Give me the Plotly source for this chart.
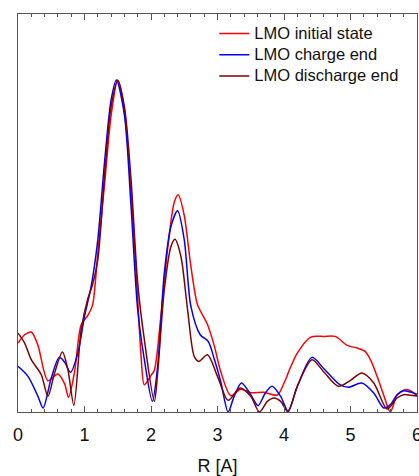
import plotly.graph_objects as go

# Data (R in Angstrom, |chi(R)| arbitrary units)
r_initial = [0, 0.1, 0.2, 0.3, 0.45, 0.6, 0.7, 0.76, 0.85, 0.95, 1.05, 1.12, 1.2, 1.3, 1.4, 1.5, 1.6, 1.7, 1.8, 1.85, 1.9, 2.0, 2.05, 2.15, 2.25, 2.35, 2.41, 2.5, 2.6, 2.7, 2.84, 2.95, 3.05, 3.2, 3.35, 3.5, 3.7, 3.9, 4.0, 4.1, 4.2, 4.4, 4.6, 4.77, 4.95, 5.1, 5.22, 5.3, 5.4, 5.5, 5.6, 5.7, 5.82, 5.92, 6.0]
v_initial = [0.207, 0.232, 0.24, 0.2, 0.094, 0.114, 0.085, 0.044, 0.12, 0.262, 0.29, 0.32, 0.477, 0.68, 0.89, 0.997, 0.907, 0.66, 0.34, 0.17, 0.082, 0.11, 0.125, 0.29, 0.49, 0.63, 0.652, 0.59, 0.437, 0.322, 0.267, 0.2, 0.12, 0.049, 0.068, 0.058, 0.059, 0.051, 0.087, 0.135, 0.177, 0.225, 0.227, 0.227, 0.2, 0.192, 0.182, 0.157, 0.107, 0.05, 0.0, 0.05, 0.067, 0.062, 0.047]

r_charge = [0, 0.15, 0.3, 0.377, 0.5, 0.62, 0.7, 0.79, 0.9, 1.0, 1.1, 1.2, 1.3, 1.4, 1.48, 1.6, 1.7, 1.8, 1.9, 2.02, 2.1, 2.2, 2.3, 2.4, 2.5, 2.6, 2.74, 2.86, 2.95, 3.05, 3.16, 3.25, 3.36, 3.5, 3.61, 3.72, 3.82, 3.95, 4.06, 4.2, 4.42, 4.6, 4.84, 4.97, 5.17, 5.35, 5.5, 5.6, 5.7, 5.8, 5.9, 6.0]
v_charge = [0.137, 0.107, 0.047, 0.012, 0.102, 0.164, 0.15, 0.119, 0.177, 0.287, 0.377, 0.517, 0.747, 0.937, 0.997, 0.892, 0.617, 0.307, 0.157, 0.032, 0.137, 0.417, 0.557, 0.604, 0.517, 0.317, 0.232, 0.212, 0.16, 0.09, 0.0, 0.047, 0.087, 0.052, 0.019, 0.057, 0.077, 0.047, 0.003, 0.077, 0.164, 0.13, 0.082, 0.074, 0.087, 0.057, 0.012, 0.022, 0.052, 0.064, 0.06, 0.053]

r_discharge = [0, 0.1, 0.2, 0.35, 0.45, 0.55, 0.668, 0.75, 0.84, 0.95, 1.05, 1.12, 1.2, 1.3, 1.4, 1.5, 1.6, 1.7, 1.8, 1.9, 2.05, 2.1, 2.2, 2.3, 2.36, 2.45, 2.55, 2.65, 2.72, 2.85, 3.0, 3.16, 3.34, 3.5, 3.63, 3.75, 3.85, 3.95, 4.06, 4.2, 4.42, 4.6, 4.82, 5.0, 5.17, 5.35, 5.55, 5.7, 5.8, 5.9, 6.0]
v_discharge = [0.237, 0.207, 0.157, 0.112, 0.047, 0.117, 0.18, 0.127, 0.02, 0.247, 0.34, 0.382, 0.457, 0.707, 0.917, 0.995, 0.917, 0.697, 0.387, 0.217, 0.032, 0.117, 0.367, 0.497, 0.519, 0.467, 0.307, 0.167, 0.152, 0.172, 0.107, 0.035, 0.072, 0.047, 0.0, 0.032, 0.042, 0.032, 0.0, 0.077, 0.157, 0.12, 0.077, 0.095, 0.117, 0.087, 0.009, 0.042, 0.052, 0.05, 0.048]

series_names = ["LMO initial state", "LMO charge end", "LMO discharge end"]
colors = ["#ff0000", "#0000ff", "#800000"]

fig = go.Figure()
for name, xs, ys, c in zip(series_names,
                           [r_initial, r_charge, r_discharge],
                           [v_initial, v_charge, v_discharge], colors):
    fig.add_trace(go.Scatter(x=xs, y=ys, mode="lines",
                             name="<span style='font-size:16.5px'>" + name + "</span>",
                             line=dict(color=c, width=1.5, shape="spline", smoothing=0.8)))

axis_col = "#555555"
fig.update_layout(
    width=419, height=476,
    margin=dict(l=18, r=2, t=14, b=64),
    paper_bgcolor="white", plot_bgcolor="white",
    font=dict(family="Liberation Sans, Arial, sans-serif", color="#111111"),
    showlegend=True,
    legend=dict(x=0.492, y=0.99, xanchor="left", yanchor="top",
                bgcolor="rgba(0,0,0,0)", font=dict(size=14),
                tracegroupgap=0, itemwidth=30),
    xaxis=dict(range=[0, 6], dtick=1, tick0=0, showgrid=False, zeroline=False,
               automargin=False,
               showline=True, linecolor=axis_col, linewidth=1.2, mirror="ticks",
               ticks="inside", ticklen=6, tickcolor=axis_col, tickwidth=1.2,
               minor=dict(dtick=0.2, ticks="inside", ticklen=3, tickcolor=axis_col, tickwidth=1),
               tickfont=dict(size=18), ticklabelstandoff=6, ticklabeloverflow="allow",
               title=dict(text="R [A]", font=dict(size=18), standoff=18)),
    yaxis=dict(range=[0, 1.195], showgrid=False, zeroline=False, showticklabels=False,
               automargin=False,
               showline=True, linecolor=axis_col, linewidth=1.2, mirror=True, ticks=""),
)

fig.write_html("out.html", config={"displayModeBar": False},
               post_script="document.body.style.margin='0';document.body.style.overflow='hidden';")
